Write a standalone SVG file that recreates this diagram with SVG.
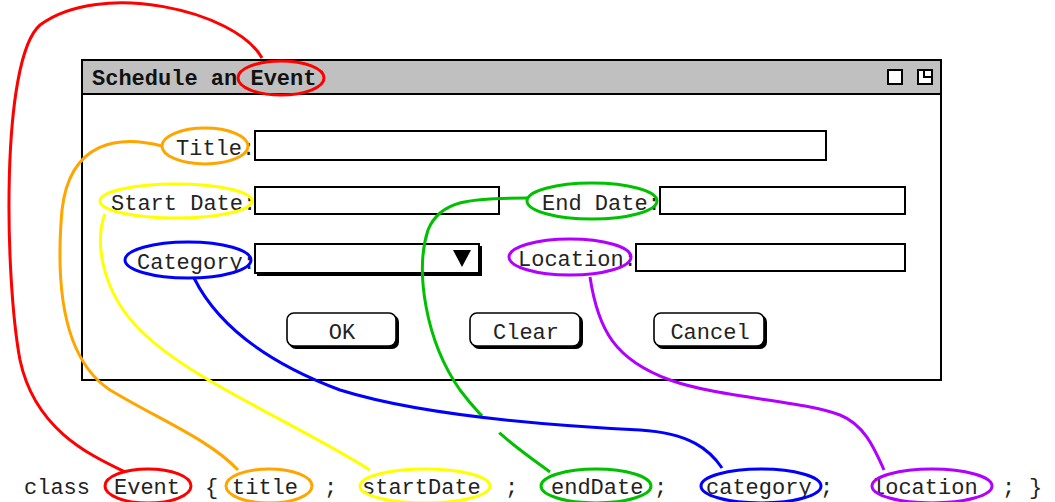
<svg xmlns="http://www.w3.org/2000/svg" width="1055" height="502" viewBox="0 0 1055 502">
<style>
text{font-family:"Liberation Mono","Courier New",monospace;font-size:22px;fill:#222}
.title{font-weight:bold;fill:#111}
.field{fill:#fff;stroke:#000;stroke-width:2}
.btn{fill:#fff;stroke:#000;stroke-width:1.6}
.shadow{fill:#000}
.ring{fill:none;stroke-width:3}
.conn{fill:none;stroke-width:3}
.red{stroke:#f00}.orange{stroke:#ffa500}.yellow{stroke:#ff0}.green{stroke:#00c000}.blue{stroke:#00f}.purple{stroke:#b000ff}
</style>
<defs>
<mask id="gap" maskUnits="userSpaceOnUse" x="0" y="0" width="1055" height="502">
<rect x="0" y="0" width="1055" height="502" fill="#fff"/>
<circle cx="491" cy="424" r="12" fill="#000"/>
</mask>
</defs>
<rect width="1055" height="502" fill="#fff"/>
<g id="window">
<rect x="82" y="60" width="859" height="320" fill="#fff" stroke="#000" stroke-width="2"/>
<rect x="82" y="60" width="859" height="34" fill="#c0c0c0" stroke="#000" stroke-width="2"/>
<text class="title" x="92" y="85">Schedule an Event</text>
<rect x="888" y="70" width="14" height="14" fill="#fff" stroke="#000" stroke-width="2"/>
<rect x="918" y="70" width="14" height="14" fill="#fff" stroke="#000" stroke-width="2"/>
<path d="M924,70 V77 H932" fill="none" stroke="#000" stroke-width="2"/>
</g>
<g id="title-field"><text x="176" y="155">Title:</text><rect class="field" x="255" y="131" width="571" height="29"/></g>
<g id="start-field"><text x="111" y="210">Start Date:</text><rect class="field" x="255" y="187" width="244" height="27"/></g>
<g id="end-field"><text x="542" y="210">End Date:</text><rect class="field" x="660" y="187" width="245" height="27"/></g>
<g id="category-field"><text x="137" y="269">Category:</text>
<rect class="shadow" x="257" y="246" width="225" height="30"/>
<rect class="field" x="255" y="244" width="224" height="29"/>
<polygon points="453,250 471,250 462,267" fill="#000"/></g>
<g id="location-field"><text x="518" y="266">Location:</text><rect class="field" x="636" y="244" width="269" height="27"/></g>
<g id="btn-ok"><rect class="shadow" x="289" y="315" width="110" height="34" rx="7"/><rect class="btn" x="287" y="313" width="109" height="33" rx="7"/><text x="342" y="339" text-anchor="middle">OK</text></g>
<g id="btn-clear"><rect class="shadow" x="472" y="315" width="111" height="34" rx="7"/><rect class="btn" x="470" y="313" width="110" height="33" rx="7"/><text x="526" y="339" text-anchor="middle">Clear</text></g>
<g id="btn-cancel"><rect class="shadow" x="656" y="315" width="111" height="34" rx="7"/><rect class="btn" x="654" y="313" width="110" height="33" rx="7"/><text x="710" y="339" text-anchor="middle">Cancel</text></g>
<g id="code">
<text x="24" y="494">class</text>
<text x="114" y="494">Event</text>
<text x="205" y="494">{</text>
<text x="232" y="494">title</text>
<text x="324" y="494">;</text>
<text x="362" y="494">startDate</text>
<text x="505" y="494">;</text>
<text x="551" y="494">endDate</text>
<text x="654" y="494">;</text>
<text x="706" y="494">category</text>
<text x="820" y="494">;</text>
<text x="872" y="494">location</text>
<text x="1002" y="494">;</text>
<text x="1029" y="494">}</text>
</g>
<g id="rings">
<ellipse class="ring red" cx="281" cy="78" rx="43" ry="17"/>
<ellipse class="ring orange" cx="205" cy="146" rx="43" ry="18"/>
<ellipse class="ring yellow" cx="176" cy="201" rx="76" ry="17"/>
<ellipse class="ring green" cx="592" cy="201" rx="65" ry="18"/>
<ellipse class="ring blue" cx="188" cy="260" rx="63" ry="18"/>
<ellipse class="ring purple" cx="570" cy="257" rx="61" ry="18"/>
<ellipse class="ring red" cx="148" cy="486" rx="43" ry="17"/>
<ellipse class="ring orange" cx="269" cy="486" rx="43" ry="17"/>
<ellipse class="ring yellow" cx="425" cy="486" rx="65" ry="17"/>
<ellipse class="ring green" cx="596" cy="486" rx="55" ry="17"/>
<ellipse class="ring blue" cx="761" cy="486" rx="60" ry="17"/>
<ellipse class="ring purple" cx="932" cy="486" rx="60" ry="17"/>
</g>
<g id="connectors">
<path class="conn red" d="M262,58 C235,10 100,-20 40,25 C0,60 5,280 20,360 C35,430 90,455 125,472"/>
<path class="conn orange" d="M162,146 C120,135 70,140 62,210 C55,290 65,360 110,390 C160,420 210,440 238,470"/>
<path class="conn yellow" d="M105,214 C95,240 100,290 140,330 C190,380 290,420 370,470"/>
<path class="conn green" mask="url(#gap)" d="M527,198 C470,198 440,200 428,230 C415,270 425,340 460,390 C490,430 520,450 550,472"/>
<path class="conn blue" d="M194,278 C215,320 260,360 340,390 C420,415 540,425 640,430 C690,433 710,450 722,468"/>
<path class="conn purple" d="M590,277 C598,330 615,360 670,380 C720,398 800,400 840,415 C865,425 875,450 884,470"/>
</g>
</svg>
